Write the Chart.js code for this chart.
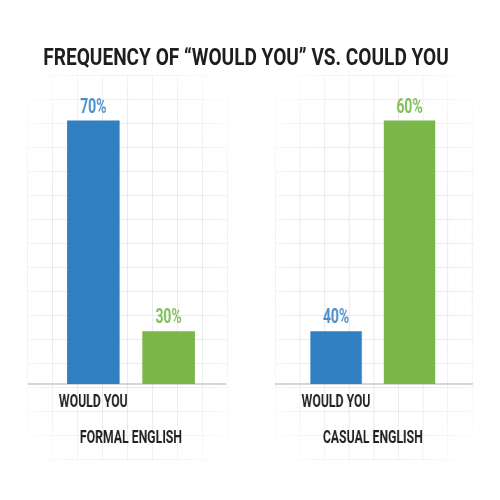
<!DOCTYPE html>
<html>
<head>
<meta charset="utf-8">
<script src="https://cdn.jsdelivr.net/npm/chart.js@4.4.1/dist/chart.umd.min.js"></script>
<style>
  html, body { margin: 0; padding: 0; background: #ffffff; }
  #page { position: relative; width: 500px; height: 500px; overflow: hidden; }
  #title {
    position: absolute; left: -8px; top: 45px; width: 500px;
    font: 700 24px/24px Roboto, sans-serif; color: #1e1e1e;
    text-align: center; white-space: nowrap;
    transform: scaleX(0.795); transform-origin: 50% 0;
  }
  .grid {
    position: absolute;
    background-image:
      linear-gradient(to right, #eaeaea 1px, transparent 1px),
      linear-gradient(to bottom, #eaeaea 1px, transparent 1px);
    background-size: 25px 24px;
    -webkit-mask-image: radial-gradient(ellipse at center, #000 55%, transparent 100%);
    mask-image: radial-gradient(ellipse at center, #000 55%, transparent 100%);
  }
  canvas { position: absolute; top: 70px; transform: scaleX(0.7); transform-origin: 0 0; }
</style>
</head>
<body>
<div id="page">
  <div id="title"></div>
  <div class="grid" style="left:27px; top:75px; width:202px; height:386px;"></div>
  <div class="grid" style="left:275px; top:75px; width:200px; height:386px; background-size:24.6px 24px;"></div>
  <canvas id="formalChart" width="307" height="400" style="left:20px; width:307px; height:400px;"></canvas>
  <canvas id="casualChart" width="307" height="400" style="left:265px; width:307px; height:400px;"></canvas>
</div>
<script>
// data
const chartTitle = 'FREQUENCY OF “WOULD YOU” VS. COULD YOU';
const categories = ['WOULD YOU', 'COULD YOU'];
const tickLabels = ['WOULD YOU', ''];
const panelTitles = ['FORMAL ENGLISH', 'CASUAL ENGLISH'];
const formalValues = [70, 30];
const casualValues = [40, 60];
// the bars are not drawn to a common scale in the original
const formalRange = [20, 76];
const casualRange = [35, 63];

const barColors = ['#2f7fc1', '#7ab648'];
const labelColors = ['#4a8fcc', '#80be5a'];
const textColor = '#222222';
const fontFamily = "Roboto, 'Liberation Sans', sans-serif";

document.getElementById('title').textContent = chartTitle;

// percent labels above the bars
const valueLabels = {
    id: 'valueLabels',
    afterDatasetsDraw(chart) {
        const ctx = chart.ctx;
        const values = chart.data.datasets[0].data;
        ctx.save();
        ctx.font = `bold 20px ${fontFamily}`;
        ctx.textAlign = 'center';
        ctx.textBaseline = 'bottom';
        chart.getDatasetMeta(0).data.forEach((bar, i) => {
            ctx.fillStyle = labelColors[i];
            ctx.fillText(values[i] + '%', bar.x, bar.y - 3);
        });
        ctx.restore();
    }
};

// gray base line, runs wider than the bars
const baseLine = {
    id: 'baseLine',
    beforeDatasetsDraw(chart, args, opts) {
        const ctx = chart.ctx;
        const y = chart.scales.y.getPixelForValue(chart.scales.y.min);
        ctx.save();
        ctx.strokeStyle = '#c9c9c9';
        ctx.lineWidth = 1.5;
        ctx.beginPath();
        ctx.moveTo(opts.from, y);
        ctx.lineTo(opts.to, y);
        ctx.stroke();
        ctx.restore();
    }
};

function makeChart(id, values, range, title, padLeft, padRight, lineFrom, lineTo) {
    const ctx = document.getElementById(id).getContext('2d');
    return new Chart(ctx, {
        type: 'bar',
        data: {
            labels: categories,
            datasets: [{
                data: values,
                backgroundColor: barColors,
                borderWidth: 0,
                barPercentage: 0.7,
                categoryPercentage: 1
            }]
        },
        options: {
            responsive: false,
            animation: false,
            layout: {
                padding: { left: padLeft, right: padRight, top: 19, bottom: 21 }
            },
            scales: {
                x: {
                    grid: { display: false },
                    border: { display: false },
                    ticks: {
                        color: textColor,
                        padding: 0,
                        font: { family: fontFamily, size: 17.5, weight: 'bold' },
                        callback: (v, i) => tickLabels[i]
                    },
                    title: {
                        display: true,
                        text: title,
                        color: textColor,
                        font: { family: fontFamily, size: 17.5, weight: 'bold' },
                        padding: { top: 15, bottom: 0 }
                    }
                },
                y: {
                    display: false,
                    min: range[0],
                    max: range[1]
                }
            },
            plugins: {
                legend: { display: false },
                tooltip: { enabled: false },
                baseLine: { from: lineFrom, to: lineTo }
            }
        },
        plugins: [baseLine, valueLabels]
    });
}

makeChart('formalChart', formalValues, formalRange, panelTitles[0], 51, 41, 11, 294);
makeChart('casualChart', casualValues, casualRange, panelTitles[1], 49, 48, 14, 297);
</script>
</body>
</html>
